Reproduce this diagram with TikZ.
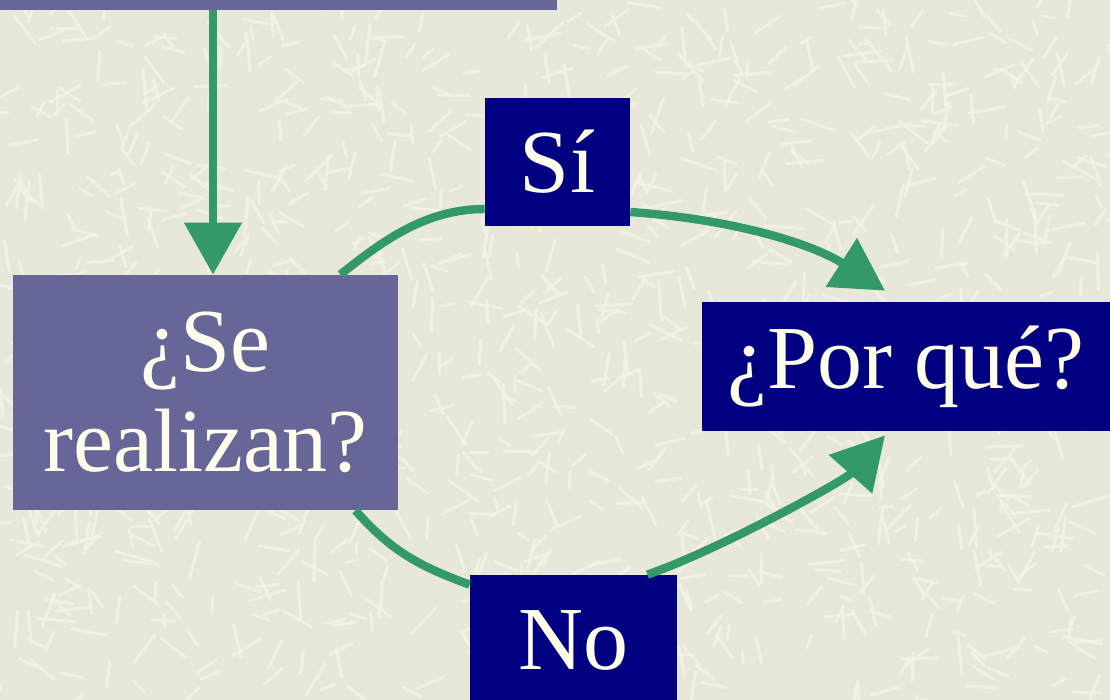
\documentclass[tikz,border=0pt]{standalone}
\usepackage{fontspec}
\setmainfont{Liberation Serif}
\usetikzlibrary{arrows.meta,positioning,calc}

\definecolor{paper}{HTML}{E7E7DA}
\definecolor{streak}{HTML}{F5F4E4}
\definecolor{lilac}{HTML}{666699}
\definecolor{navy}{HTML}{000080}
\definecolor{leaf}{HTML}{339966}
\definecolor{cream}{HTML}{FFFDEB}

\tikzset{
    box/.style={rectangle, inner sep=0pt, text=cream, align=center,
        font=\fontsize{45}{50}\selectfont},
    lilacbox/.style={box, fill=lilac},
    navybox/.style={box, fill=navy},
    flow/.style={draw=leaf, line width=4.2pt,
        -{Triangle[length=26pt,width=28pt]}},
    flowline/.style={draw=leaf, line width=4.2pt}
}

\begin{document}
\begin{tikzpicture}[x=0.5pt, y=-0.5pt]
        % Frame and paper
        \useasboundingbox (0,0) rectangle (1110,700);
        \clip (0,0) rectangle (1110,700);
        \fill[paper] (0,0) rectangle (1110,700);
        
        % Texture
        \pgfmathsetseed{7}
        \foreach \i in {1,...,1100}
            \draw[streak, line width=1.6pt, opacity=0.75, line cap=round]
                (rnd*1110, rnd*700) -- ++(rand*180:10+rnd*30);
        
        % Boxes
        \node[lilacbox, minimum width=278.5pt, minimum height=40pt] (top) at (278.5,-30) {};
        \node[lilacbox, minimum width=192.5pt, minimum height=117.5pt] (se) at (205.5,392.5) {¿Se\\realizan?};
        \node[navybox, minimum width=72.5pt, minimum height=64pt] (si) at (557.5,162) {Sí};
        \node[navybox, minimum width=204pt, minimum height=64.5pt] (por) at (906,366.5) {¿Por qué?};
        \node[navybox, minimum width=103.5pt, minimum height=65pt] (no) at (573.5,640) {No};
        
        % Connector points
        \coordinate (seIn) at ([xshift=3.75pt]se.north);
        \coordinate (seUp) at ([xshift=-29pt]se.north east);
        \coordinate (seDown) at ([xshift=-21.5pt]se.south east);
        \coordinate (porUp) at ([xshift=-10.5pt,yshift=5.5pt]por.north);
        \coordinate (porDown) at ([xshift=-10.5pt,yshift=-2pt]por.south);
        
        % Flow
        \draw[flow] (top.south -| seIn) -- (seIn);
        \draw[flowline] (seUp) .. controls +(40,-32) and +(-60,0) .. ([yshift=-23.5pt]si.west);
        \draw[flow] ([yshift=-25pt]si.east) .. controls +(110,8) and +(-70,-45) .. (porUp);
        \draw[flowline] (seDown) .. controls +(35,40) and +(-50,-18) .. ([yshift=-5pt]no.north west);
        \draw[flow] ([xshift=-15pt]no.north east) .. controls +(70,-24) and +(-40,45) .. (porDown);
        
    \end{tikzpicture}
\end{document}
